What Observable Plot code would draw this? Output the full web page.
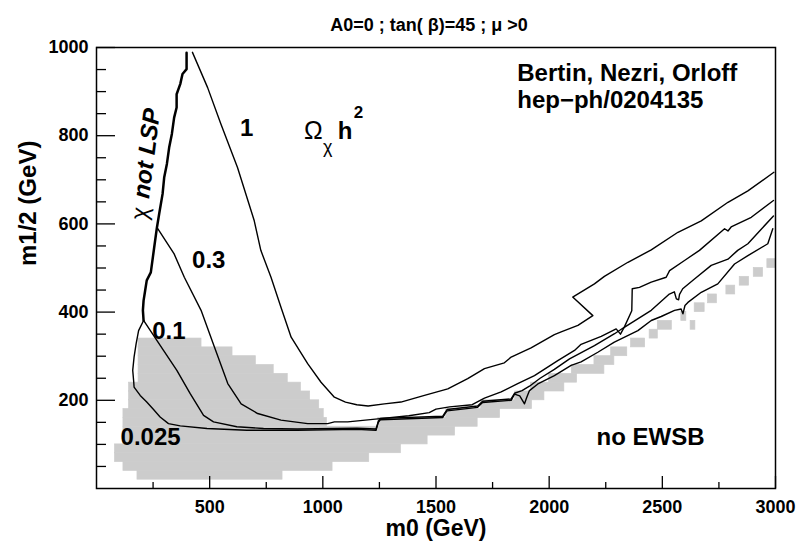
<!DOCTYPE html>
<html><head><meta charset="utf-8">
<script src="https://cdn.jsdelivr.net/npm/d3@7"></script>
<script src="https://cdn.jsdelivr.net/npm/@observablehq/plot@0.6"></script>
<style>body{margin:0;background:#fff} svg{display:block}</style>
</head><body><div id="chart"></div>
<script>
// tick values
const xTickLabels = [500, 1000, 1500, 2000, 2500, 3000];
const xTicksMinor = [250, 750, 1250, 1750, 2250, 2750];
const yTickLabels = [200, 400, 600, 800, 1000];
const yTicksMinor = [50,100,150,250,300,350,450,500,550,650,700,750,850,900,950];

// grey excluded region: [m12 low, m12 high, m0 low, m0 high]
const grayRows = [
  [20,40,181,822],
  [40,60,119,1043],
  [60,80,82,1205],
  [80,100,82,1345],
  [100,120,119,1463],
  [120,140,119,1584],
  [140,160,119,1018],[140,160,1245,1684],
  [160,180,119,1004],[160,180,1545,1783],
  [180,200,144,984],[180,200,1700,1924],
  [200,220,144,944],[200,220,1850,1979],
  [220,240,144,903],[220,240,1920,2067],
  [240,260,186,845],[240,260,2000,2123],
  [260,280,186,783],[260,280,2100,2244],
  [280,300,186,704],[280,300,2200,2288],
  [300,320,186,601],[300,320,2274,2345],
  [320,340,186,464],[320,340,2362,2424],
  [340,360,2444,2480],
  [360,380,2480,2542],[360,380,2625,2646],
  [380,400,2584,2606],
  [400,420,2643,2687],
  [420,440,2702,2741],
  [440,460,2783,2822],
  [460,480,2842,2883],
  [480,500,2904,2945],
  [500,520,2964,3000]
];

// "chi not LSP" boundary (m0, m12)
const lspLine = [[398,988],[398,951],[380,940],[370,917],[354,894],[354,864],[343,841],[333,804],[321,773],[311,736],[299,705],[292,668],[277,623],[267,592],[255,547],[240,490],[222,472],[215,449],[208,426],[205,404],[208,381]];

// relic density contours
const omega0025 = [[208,381],[186,358],[175,328],[166,298],[160,268],[164,245],[166,230],[193,211],[222,196],[252,179],[281,162],[318,147],[370,142],[488,136],[664,132],[886,132],[1151,134],[1235,132],[1245,150],[1254,156],[1530,161],[1540,170],[1549,176],[1684,184],[1695,190],[1706,195],[1832,200],[1847,214],[1870,210],[1891,192],[1900,205],[1913,222],[1950,237],[2023,256],[2097,279],[2141,287],[2215,309],[2288,332],[2392,358],[2451,381],[2495,390],[2554,404],[2583,407],[2591,396],[2600,415],[2613,422],[2672,445],[2745,464],[2819,509],[2878,528],[2966,555],[2988,589]];
const omega01 = [[208,381],[296,313],[355,268],[414,215],[473,166],[517,151],[620,140],[738,136],[886,135],[1151,137],[1235,135],[1245,152],[1254,159],[1530,164],[1540,172],[1549,179],[1684,187],[1706,198],[1832,203],[1847,216],[1880,222],[1913,232],[1960,250],[2023,270],[2090,294],[2200,324],[2289,351],[2330,365],[2451,404],[2531,441],[2553,446],[2562,430],[2572,428],[2576,440],[2590,453],[2642,475],[2716,506],[2790,520],[2833,540],[2878,555],[2937,588],[2991,618]];
const omega03 = [[267,592],[343,532],[388,479],[462,404],[521,321],[580,238],[639,192],[712,170],[815,155],[933,147],[1022,147],[1051,151],[1110,151],[1243,158],[1380,165],[1470,172],[1500,180],[1560,185],[1660,190],[1714,205],[1788,219],[1861,238],[1935,256],[2038,290],[2112,313],[2141,327],[2230,345],[2296,362],[2315,350],[2333,367],[2365,403],[2367,453],[2399,456],[2451,468],[2517,479],[2532,494],[2598,517],[2664,540],[2775,589],[2790,584],[2804,593],[2893,615],[2991,653]];
const omega1 = [[424,989],[491,909],[550,826],[623,728],[697,607],[726,540],[771,479],[815,411],[860,343],[933,283],[992,241],[1051,207],[1100,196],[1150,190],[1200,187],[1272,192],[1345,196],[1449,211],[1552,226],[1640,249],[1714,272],[1802,285],[1832,298],[1920,319],[2023,349],[2053,355],[2127,370],[2193,392],[2104,434],[2200,464],[2244,481],[2348,513],[2451,541],[2569,581],[2672,607],[2790,649],[2878,675],[2993,717]];

// text annotations
const contourLabels = [
  {text: "1", x: 663, y: 816},
  {text: "0.3", x: 496, y: 517},
  {text: "0.1", x: 320, y: 356},
  {text: "0.025", x: 239, y: 117}
];
const creditLines = [
  {text: "Bertin, Nezri, Orloff", x: 1859, y: 941},
  {text: "hep\u2212ph/0204135", x: 1859, y: 880}
];
const regionLabels = [{text: "no EWSB", x: 2448, y: 116}];
const omegaBig = [{text: "\u03A9", x: 958, y: 810}];
const omegaSub = [{text: "\u03C7", x: 1022, y: 774}];
const omegaH = [{text: "h", x: 1098, y: 810}];
const omegaSup = [{text: "2", x: 1157, y: 853}];
const lspChi = [{text: "\u03C7", x: 193, y: 624}];
const lspText = [{text: "not LSP", x: 223, y: 760}];
const titleText = "A0=0 ; tan( \u03B2)=45 ; \u03BC >0";
const xLabel = "m0 (GeV)";
const yLabel = "m1/2 (GeV)";

const W = 800, H = 546, mL = 96, mR = 25, mT = 47, mB = 58;
const plotW = W - mL - mR, plotH = H - mT - mB;
const font = "'Liberation Sans', Arial, Helvetica, sans-serif";
const line = (data, sw) => Plot.line(data, {x: d => d[0], y: d => d[1], stroke: "#000", strokeWidth: sw, curve: "linear"});
const txt = (data, opts) => Plot.text(data, {x: "x", y: "y", text: "text", fill: "#000", ...opts});

const chart = Plot.plot({
  width: W, height: H,
  marginLeft: mL, marginRight: mR, marginTop: mT, marginBottom: mB,
  x: {domain: [0, 3000]},
  y: {domain: [0, 1000]},
  style: {fontFamily: font, background: "#fff", color: "#000", overflow: "visible"},
  marks: [
    Plot.rect(grayRows, {x1: d => d[2], x2: d => d[3], y1: d => d[0], y2: d => d[1], fill: "#cccccc", stroke: "#cccccc", strokeWidth: 0.7}),
    line(omega0025, 1.4),
    line(omega01, 1.4),
    line(omega03, 1.4),
    line(omega1, 1.4),
    line(lspLine, 2.5),
    Plot.tickX(xTicksMinor, {x: d => d, insetTop: plotH - 6, stroke: "#000", strokeWidth: 1.3}),
    Plot.tickX(xTickLabels, {x: d => d, insetTop: plotH - 12, stroke: "#000", strokeWidth: 1.3}),
    Plot.tickY(yTicksMinor, {y: d => d, insetRight: plotW - 10, stroke: "#000", strokeWidth: 1.3}),
    Plot.tickY(yTickLabels, {y: d => d, insetRight: plotW - 19, stroke: "#000", strokeWidth: 1.3}),
    Plot.axisX(xTickLabels, {tickSize: 0, tickPadding: 12, fontSize: 18, fontWeight: "bold", label: null, fill: "#000", tickFormat: d => String(d)}),
    Plot.axisY(yTickLabels, {tickSize: 0, tickPadding: 8, fontSize: 18, fontWeight: "bold", label: null, fill: "#000", tickFormat: d => String(d)}),
    Plot.frame({stroke: "#000", strokeWidth: 1.5}),
    txt(contourLabels, {fontSize: 24, fontWeight: "bold"}),
    txt(creditLines, {fontSize: 24, fontWeight: "bold", textAnchor: "start"}),
    txt(regionLabels, {fontSize: 24, fontWeight: "bold"}),
    txt(omegaBig, {fontSize: 25}),
    txt(omegaSub, {fontSize: 18}),
    txt(omegaH, {fontSize: 24, fontWeight: "bold"}),
    txt(omegaSup, {fontSize: 17, fontWeight: "bold"}),
    txt(lspChi, {fontSize: 24, rotate: -83}),
    txt(lspText, {fontSize: 24, fontWeight: "bold", fontStyle: "italic", rotate: -83}),
    Plot.text([titleText], {frameAnchor: "top", dy: -29, dx: -7, text: d => d, fontSize: 18, fontWeight: "bold", fill: "#000"}),
    Plot.text([xLabel], {frameAnchor: "bottom", dy: 47, text: d => d, fontSize: 23, fontWeight: "bold", fill: "#000"}),
    Plot.text([yLabel], {frameAnchor: "left", dx: -68, dy: -2, rotate: -90, text: d => d, fontSize: 24, fontWeight: "bold", fill: "#000"})
  ]
});
document.getElementById("chart").appendChild(chart);
</script>
</body></html>
